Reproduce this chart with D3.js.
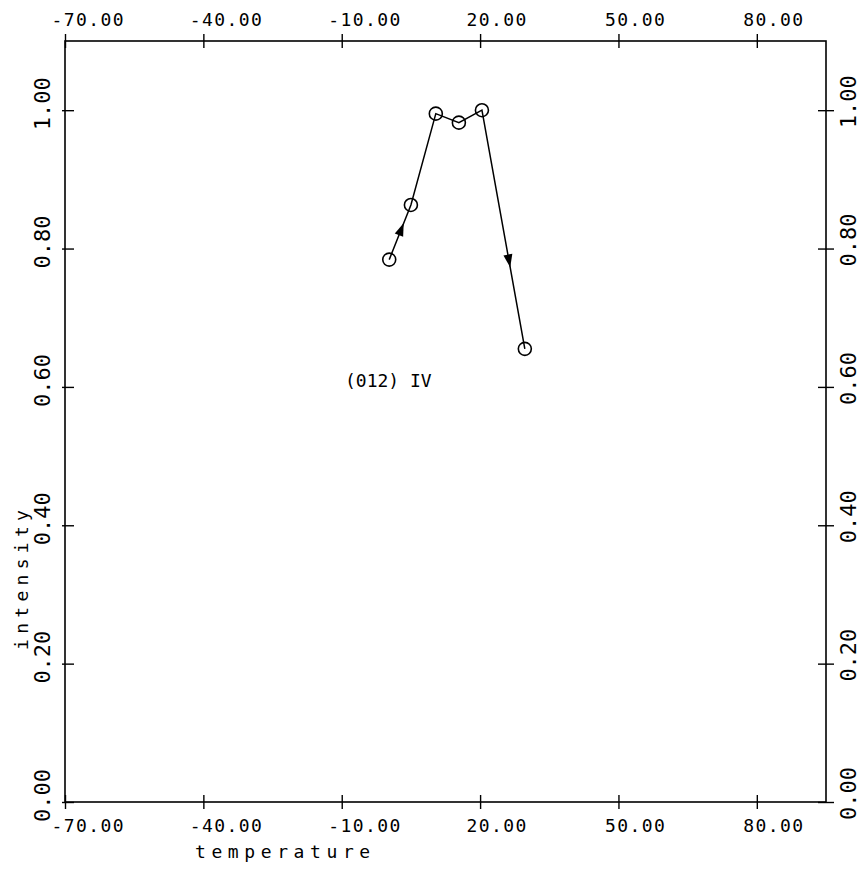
<!DOCTYPE html>
<html>
	<head>
		<meta charset="utf-8">
		<style>
			body { margin: 0; background: #fff; }
			text { font-family: "DejaVu Sans Mono", monospace; fill: #000; }
		</style>
	</head>
	<body>
		<script src="https://cdn.jsdelivr.net/npm/d3@7"></script>
		<div id="canvas"></div>
		<script>
			var width = 864;
			var height = 871;

			// data
			var temperature = [0.3, 5.0, 10.4, 15.4, 20.4, 29.7];
			var intensity = [0.784, 0.863, 0.995, 0.982, 1.000, 0.655];
			var x_ticks = [-70, -40, -10, 20, 50, 80];
			var y_ticks = [0, 0.2, 0.4, 0.6, 0.8, 1.0];
			var x_domain = [-70, 95];
			var y_domain = [0, 1.1];
			var curve_label = "(012) IV";
			var label_at = [-9.3, 0.6];
			var arrow_segments = [0, 4];
			var arrow_frac = [0.55, 0.63];

			var plot_l = 65, plot_r = 826, plot_t = 41, plot_b = 802;

			var x = d3.scaleLinear().domain(x_domain).range([plot_l, plot_r]);
			var y = d3.scaleLinear().domain(y_domain).range([plot_b, plot_t]);
			var fmt = d3.formatLocale({ decimal: ".", thousands: ",", grouping: [3], currency: ["", ""], minus: "-" }).format(".2f");

			var svg = d3.select("#canvas")
				.append("svg")
				.attr("width", width)
				.attr("height", height);

			// frame
			svg.append("rect")
				.attr("x", plot_l)
				.attr("y", plot_t)
				.attr("width", plot_r - plot_l)
				.attr("height", plot_b - plot_t)
				.attr("fill", "none")
				.attr("stroke", "#000")
				.attr("stroke-width", 1.6);

			function tidy(g) {
				g.select(".domain").remove();
				g.selectAll(".tick line").attr("stroke", "#000").attr("stroke-width", 1.4);
				g.selectAll(".tick text")
					.attr("font-size", null)
					.attr("fill", "#000")
					.style("font-family", "'DejaVu Sans Mono', monospace");
			}

			// bottom axis
			var gb = svg.append("g")
				.attr("transform", "translate(0," + (plot_b - 7) + ")")
				.call(d3.axisBottom(x).tickValues(x_ticks).tickFormat(fmt).tickSize(14))
				.call(tidy);
			gb.selectAll(".tick text")
				.attr("x", -14).attr("y", 37).attr("dy", null)
				.attr("text-anchor", "start")
				.style("font-size", "18px")
				.style("letter-spacing", "1.4px");

			// top axis
			var gt = svg.append("g")
				.attr("transform", "translate(0," + (plot_t + 7) + ")")
				.call(d3.axisTop(x).tickValues(x_ticks).tickFormat(fmt).tickSize(14))
				.call(tidy);
			gt.selectAll(".tick text")
				.attr("x", -14).attr("y", -22).attr("dy", null)
				.attr("text-anchor", "start")
				.style("font-size", "18px")
				.style("letter-spacing", "1.4px");

			// left axis
			var gl = svg.append("g")
				.attr("transform", "translate(" + (plot_l + 9) + ",0)")
				.call(d3.axisLeft(y).tickValues(y_ticks).tickFormat(fmt).tickSize(12))
				.call(tidy);
			gl.selectAll(".tick text")
				.attr("x", 0).attr("y", 0).attr("dy", null)
				.attr("text-anchor", "middle")
				.attr("transform", "translate(-24,-7) rotate(-90)")
				.style("font-size", "22px");

			// right axis
			var gr = svg.append("g")
				.attr("transform", "translate(" + (plot_r - 8) + ",0)")
				.call(d3.axisRight(y).tickValues(y_ticks).tickFormat(fmt).tickSize(16))
				.call(tidy);
			gr.selectAll(".tick text")
				.attr("x", 0).attr("y", 0).attr("dy", null)
				.attr("text-anchor", "middle")
				.attr("transform", "translate(38,-9) rotate(-90)")
				.style("font-size", "22px");

			// axis titles
			svg.append("text")
				.attr("x", 195)
				.attr("y", 858)
				.style("font-size", "18px")
				.style("letter-spacing", "5.6px")
				.text("temperature");

			svg.append("text")
				.attr("transform", "translate(28,650) rotate(-90)")
				.style("font-size", "18px")
				.style("letter-spacing", "5.3px")
				.text("intensity");

			// curve
			var pts = temperature.map(function (t, i) { return [x(t), y(intensity[i])]; });

			svg.append("path")
				.attr("d", d3.line()(pts))
				.attr("fill", "none")
				.attr("stroke", "#000")
				.attr("stroke-width", 1.5);

			svg.selectAll(".pt")
				.data(pts)
				.enter()
				.append("circle")
				.attr("class", "pt")
				.attr("cx", function (d) { return d[0]; })
				.attr("cy", function (d) { return d[1]; })
				.attr("r", 6.5)
				.attr("fill", "none")
				.attr("stroke", "#000")
				.attr("stroke-width", 1.6);

			// direction arrows
			arrow_segments.forEach(function (s, k) {
				var a = pts[s], b = pts[s + 1];
				var f = arrow_frac[k];
				var cx = a[0] + (b[0] - a[0]) * f;
				var cy = a[1] + (b[1] - a[1]) * f;
				var ang = Math.atan2(b[1] - a[1], b[0] - a[0]) * 180 / Math.PI;
				svg.append("path")
					.attr("d", "M7,0 L-6,-4.5 L-6,4.5 Z")
					.attr("transform", "translate(" + cx + "," + cy + ") rotate(" + ang + ")")
					.attr("fill", "#000");
			});

			svg.append("text")
				.attr("x", x(label_at[0]))
				.attr("y", y(label_at[1]))
				.style("font-size", "18px")
				.text(curve_label);
		</script>
	</body>
</html>
